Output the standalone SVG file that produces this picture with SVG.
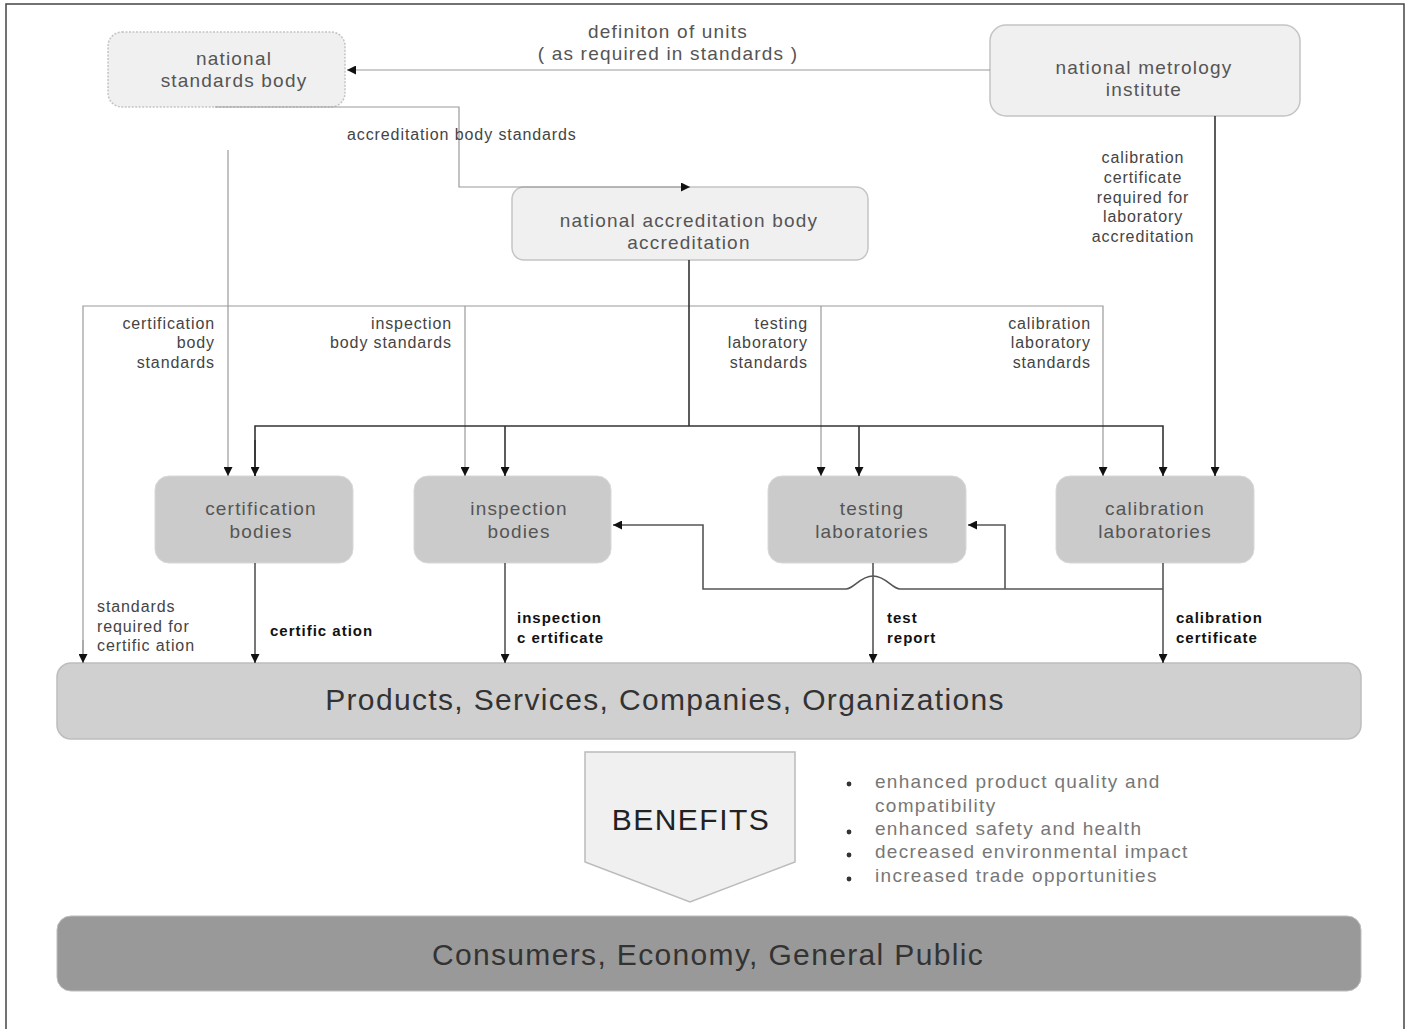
<svg xmlns="http://www.w3.org/2000/svg" width="1410" height="1029" viewBox="0 0 1410 1029">
<style>
text{font-family:"Liberation Sans",Arial,sans-serif}
.nl{fill:#f0f0f0;stroke:#c4c4c4;stroke-width:1.5}
.ng{fill:#cbcbcb;stroke:#d8d8d8;stroke-width:1}
.nt{font-size:19px;letter-spacing:1.2px;fill:#555;text-anchor:middle}
.lb{font-size:16px;letter-spacing:0.9px;fill:#444}
.bd{font-size:15px;letter-spacing:1px;fill:#111;font-weight:bold}
.thin{fill:none;stroke:#9a9a9a;stroke-width:1.2}
.dark{fill:none;stroke:#333;stroke-width:1.6}
.mid{fill:none;stroke:#555;stroke-width:1.6}
.big{font-size:30px;letter-spacing:1.35px;fill:#333;text-anchor:middle}
.li{font-size:19px;letter-spacing:1.3px;fill:#777}
</style>
<defs>
<marker id="ah" viewBox="0 0 10 10" refX="10" refY="5" markerWidth="9" markerHeight="9" markerUnits="userSpaceOnUse" orient="auto">
<path d="M0,0 L10,5 L0,10 z" fill="#111"/>
</marker>
</defs>
<rect x="6" y="4" width="1398" height="1030" fill="#fff" stroke="#444" stroke-width="1.5"/>

<g id="national-standards-body">
<rect class="nl" x="108" y="32" width="237" height="75" rx="14" stroke-dasharray="2 1.5" stroke="#aaa"/>
<text class="nt" x="234" y="65">national</text>
<text class="nt" x="234" y="87">standards body</text>
</g>
<g id="national-metrology-institute">
<rect class="nl" x="990" y="25" width="310" height="91" rx="16"/>
<text class="nt" x="1144" y="74">national metrology</text>
<text class="nt" x="1144" y="96">institute</text>
</g>
<g id="national-accreditation-body">
<rect class="nl" x="512" y="187" width="356" height="73" rx="12"/>
<text class="nt" x="689" y="227">national accreditation body</text>
<text class="nt" x="689" y="249">accreditation</text>
</g>
<g id="certification-bodies">
<rect class="ng" x="155" y="476" width="198" height="87" rx="14"/>
<text class="nt" x="261" y="515">certification</text>
<text class="nt" x="261" y="538">bodies</text>
</g>
<g id="inspection-bodies">
<rect class="ng" x="414" y="476" width="197" height="87" rx="14"/>
<text class="nt" x="519" y="515">inspection</text>
<text class="nt" x="519" y="538">bodies</text>
</g>
<g id="testing-laboratories">
<rect class="ng" x="768" y="476" width="198" height="87" rx="14"/>
<text class="nt" x="872" y="515">testing</text>
<text class="nt" x="872" y="538">laboratories</text>
</g>
<g id="calibration-laboratories">
<rect class="ng" x="1056" y="476" width="198" height="87" rx="14"/>
<text class="nt" x="1155" y="515">calibration</text>
<text class="nt" x="1155" y="538">laboratories</text>
</g>
<g id="products">
<rect x="57" y="663" width="1304" height="76" rx="14" fill="#d0d0d0" stroke="#bdbdbd" stroke-width="1.5"/>
<text class="big" x="665" y="710">Products, Services, Companies, Organizations</text>
</g>
<g id="benefits">
<polygon points="585,752 795,752 795,862 690,902 585,862" fill="#f0f0f0" stroke="#bbb" stroke-width="1.5"/>
<text x="691" y="830" font-size="30" letter-spacing="1.5" fill="#222" text-anchor="middle">BENEFITS</text>
</g>
<g id="benefits-list">
<circle cx="849" cy="784" r="2.4" fill="#333"/>
<circle cx="849" cy="832" r="2.4" fill="#333"/>
<circle cx="849" cy="855" r="2.4" fill="#333"/>
<circle cx="849" cy="879" r="2.4" fill="#333"/>
<text class="li" x="875" y="788">enhanced product quality and</text>
<text class="li" x="875" y="812">compatibility</text>
<text class="li" x="875" y="835">enhanced safety and health</text>
<text class="li" x="875" y="858">decreased environmental impact</text>
<text class="li" x="875" y="882">increased trade opportunities</text>
</g>
<g id="consumers">
<rect x="57" y="916" width="1304" height="75" rx="14" fill="#999" stroke="#bdbdbd" stroke-width="1"/>
<text class="big" x="708" y="965">Consumers, Economy, General Public</text>
</g>

<g id="connectors">
<path class="thin" d="M990,70 H347" stroke="#aaa" stroke-width="2" marker-end="url(#ah)"/>
<path class="thin" d="M215,107 H459 V187 H690" marker-end="url(#ah)"/>
<path class="thin" d="M228,150 V476" marker-end="url(#ah)"/>
<path class="thin" d="M83,663 V306 H1103 V476" marker-end="url(#ah)"/>
<path class="thin" d="M83,640 V663" marker-end="url(#ah)"/>
<path class="thin" d="M465,306 V476" marker-end="url(#ah)"/>
<path class="thin" d="M821,306 V476" marker-end="url(#ah)"/>
<path class="dark" d="M689,260 V426"/>
<path class="dark" d="M255,476 V426 H1163 V476" marker-end="url(#ah)"/>
<path class="dark" d="M255,440 V476" marker-end="url(#ah)"/>
<path class="dark" d="M505,426 V476" marker-end="url(#ah)"/>
<path class="dark" d="M859,426 V476" marker-end="url(#ah)"/>
<path class="dark" d="M1215,116 V476" marker-end="url(#ah)"/>
<path class="mid" d="M255,563 V663" marker-end="url(#ah)"/>
<path class="mid" d="M505,563 V663" marker-end="url(#ah)"/>
<path class="mid" d="M873,563 V663" marker-end="url(#ah)"/>
<path class="mid" d="M1163,563 V663" marker-end="url(#ah)"/>
<path class="mid" d="M1163,589 H900 C892,589 886,576 873,576 C860,576 854,589 846,589 H703 V525 H613" marker-end="url(#ah)"/>
<path class="mid" d="M1005,589 V525 H968" marker-end="url(#ah)"/>
</g>

<g id="edge-labels">
<text class="nt" x="668" y="38">definiton of units</text>
<text class="nt" x="668" y="60">( as required in standards )</text>
<text class="lb" x="347" y="140">accreditation body standards</text>
<g class="lb" text-anchor="middle">
<text x="1143" y="163">calibration</text>
<text x="1143" y="183">certificate</text>
<text x="1143" y="203">required for</text>
<text x="1143" y="222">laboratory</text>
<text x="1143" y="242">accreditation</text>
</g>
<g class="lb" text-anchor="end">
<text x="215" y="329">certification</text>
<text x="215" y="348">body</text>
<text x="215" y="368">standards</text>
<text x="452" y="329">inspection</text>
<text x="452" y="348">body standards</text>
<text x="808" y="329">testing</text>
<text x="808" y="348">laboratory</text>
<text x="808" y="368">standards</text>
<text x="1091" y="329">calibration</text>
<text x="1091" y="348">laboratory</text>
<text x="1091" y="368">standards</text>
</g>
<text class="lb" x="97" y="612">standards</text>
<text class="lb" x="97" y="632">required for</text>
<text class="lb" x="97" y="651">certific ation</text>
<text class="bd" x="270" y="636">certific ation</text>
<text class="bd" x="517" y="623">inspection</text>
<text class="bd" x="517" y="643">c ertificate</text>
<text class="bd" x="887" y="623">test</text>
<text class="bd" x="887" y="643">report</text>
<text class="bd" x="1176" y="623">calibration</text>
<text class="bd" x="1176" y="643">certificate</text>
</g>
</svg>
